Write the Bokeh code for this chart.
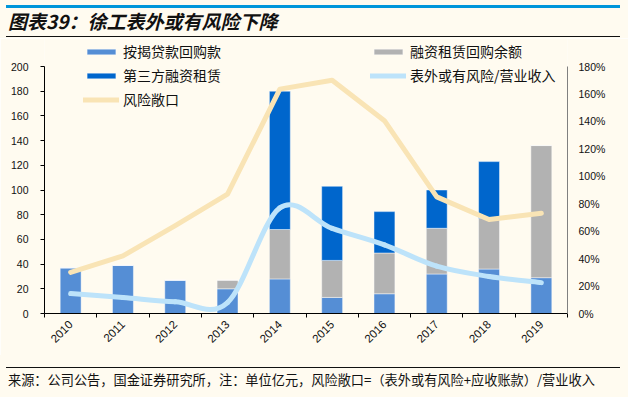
import numpy as np
from bokeh.plotting import figure
from bokeh.layouts import column
from bokeh.models import (Range1d, LinearAxis, FixedTicker, Div,
                          Legend, LegendItem, NumeralTickFormatter, ColumnDataSource)
from bokeh.embed import file_html
from bokeh.resources import INLINE

# ---------------- data ----------------
years = ["2010", "2011", "2012", "2013", "2014", "2015", "2016", "2017", "2018", "2019"]
mortgage_buyback = [37, 39, 27, 20, 28, 13, 16, 32, 36, 29]        # 按揭贷款回购款
lease_buyback = [0, 0, 0, 7, 40, 30, 33, 37, 41, 107]              # 融资租赁回购余额
third_party_lease = [0, 0, 0, 0, 112, 60, 33.5, 31, 46, 0]         # 第三方融资租赁
risk_exposure = [0.30, 0.42, 0.64, 0.87, 1.635, 1.70, 1.405, 0.85, 0.685, 0.73]   # 风险敞口
offbs_ratio = [0.145, 0.116, 0.085, 0.08, 0.77, 0.62, 0.50, 0.345, 0.27, 0.225]   # 表外或有风险/营业收入
left_ticks = [0, 20, 40, 60, 80, 100, 120, 140, 160, 180, 200]
right_ticks = [0, 0.2, 0.4, 0.6, 0.8, 1.0, 1.2, 1.4, 1.6, 1.8]

title_text = "图表39：徐工表外或有风险下降"
source_text = "来源：公司公告，国金证券研究所，注：单位亿元，风险敞口=（表外或有风险+应收账款）/营业收入"

BG = "#FFFBF0"
C_MORT = "#558ED5"
C_LEASE = "#B2B2B2"
C_THIRD = "#0066CC"
C_EXPO = "#F9E4B5"
C_RATIO = "#BDE3FA"
CJK = "Noto Sans CJK SC"
NUM = "Liberation Sans"

W = 628
TITLE_H = 38
FIG_H = 317
FOOT_H = 397 - TITLE_H - FIG_H
FRAME_H = 275          # frame height in px (frame bottom at y=313)
AXIS_PX = 247          # px from 0 to 200 on the left axis
L_MAX, R_MAX = 200, 1.8
l_end = L_MAX * FRAME_H / AXIS_PX
r_end = R_MAX * FRAME_H / AXIS_PX

n = len(years)
xc = np.arange(n) + 0.5

p = figure(width=W, height=FIG_H, output_backend="svg", toolbar_location=None,
           x_range=Range1d(0, n), y_range=Range1d(0, l_end))
p.min_border_left = 44
p.min_border_right = 61
p.min_border_top = 0
p.min_border_bottom = FIG_H - FRAME_H
p.margin = 0
p.background_fill_color = BG
p.border_fill_color = BG
p.outline_line_color = None
p.xgrid.visible = False
p.ygrid.visible = False
p.extra_y_ranges = {"r": Range1d(0, r_end)}

src = ColumnDataSource(dict(x=xc, m=mortgage_buyback, l=lease_buyback, t=third_party_lease))
bars = p.vbar_stack(["m", "l", "t"], x="x", width=0.4, source=src,
                    fill_color=[C_MORT, C_LEASE, C_THIRD],
                    line_color="#FFFFFF", line_alpha=0.45, line_width=1)

r_expo = p.line(xc, risk_exposure, y_range_name="r", line_color=C_EXPO,
                line_width=5, line_join="round", line_cap="round")

# smooth curve (Catmull-Rom style bezier through the data points)
yv = np.array(offbs_ratio)
xp = np.concatenate([[xc[0]], xc, [xc[-1]]])
yp = np.concatenate([[yv[0]], yv, [yv[-1]]])
x0 = xc[:-1]; x1 = xc[1:]
y0 = yv[:-1]; y1 = yv[1:]
cx0 = x0 + (xp[2:-1] - xp[0:-3]) / 6.0
cy0 = y0 + (yp[2:-1] - yp[0:-3]) / 6.0
cx1 = x1 - (xp[3:] - xp[1:-2]) / 6.0
cy1 = y1 - (yp[3:] - yp[1:-2]) / 6.0
r_ratio = p.bezier(x0=x0, y0=y0, x1=x1, y1=y1, cx0=cx0, cy0=cy0, cx1=cx1, cy1=cy1,
                   y_range_name="r", line_color=C_RATIO, line_width=5, line_cap="round")

# ---------------- axes ----------------
xa = p.xaxis[0]
xa.ticker = FixedTicker(ticks=list(xc), minor_ticks=list(range(n + 1)))
xa.major_label_overrides = {float(v): y for v, y in zip(xc, years)}
xa.major_label_orientation = np.pi / 4
xa.major_tick_out = 0
xa.major_tick_in = 0
xa.minor_tick_out = 4
xa.minor_tick_in = 0
xa.minor_tick_line_color = "black"
xa.axis_line_color = "black"
xa.major_label_text_font = NUM
xa.major_label_text_font_size = "11.5px"
xa.major_label_text_color = "#111111"
xa.major_label_standoff = 5

ya = p.yaxis[0]
ya.ticker = FixedTicker(ticks=left_ticks)
ya.bounds = (0, L_MAX)
ya.major_tick_out = 4
ya.major_tick_in = 0
ya.minor_tick_line_color = None
ya.axis_line_color = "black"
ya.major_label_text_font = NUM
ya.major_label_text_font_size = "10.5px"
ya.major_label_text_color = "#111111"
ya.major_label_standoff = 12

ra = LinearAxis(y_range_name="r", ticker=FixedTicker(ticks=right_ticks),
                formatter=NumeralTickFormatter(format="0%"), bounds=(0, R_MAX))
ra.major_tick_out = 0
ra.major_tick_in = 0
ra.minor_tick_line_color = None
ra.axis_line_color = "#808080"
ra.major_label_text_font = NUM
ra.major_label_text_font_size = "10.5px"
ra.major_label_text_color = "#111111"
ra.major_label_standoff = 11
p.add_layout(ra, "right")

# ---------------- legends ----------------
def make_legend(items, loc):
    return Legend(items=items, location=loc, orientation="vertical",
                  glyph_width=36, glyph_height=7, label_height=20, spacing=4,
                  label_standoff=4, padding=0, margin=0,
                  border_line_color=None, background_fill_alpha=0,
                  label_text_font=CJK, label_text_font_size="14px",
                  label_text_color="#111111")

leg_left = make_legend([LegendItem(label="按揭贷款回购款", renderers=[bars[0]]),
                        LegendItem(label="第三方融资租赁", renderers=[bars[2]]),
                        LegendItem(label="风险敞口", renderers=[r_expo])], (39, 204))
leg_right = make_legend([LegendItem(label="融资租赁回购余额", renderers=[bars[1]]),
                         LegendItem(label="表外或有风险/营业收入", renderers=[r_ratio])], (326, 228))
p.add_layout(leg_left)
p.add_layout(leg_right)

# ---------------- title / footer ----------------
title_html = (
    f'<div style="position:relative;width:{W}px;height:{TITLE_H}px;background:{BG};">'
    '<div style="position:absolute;left:6px;top:5px;width:614px;height:3px;background:#0096DA"></div>'
    f'<div style="position:absolute;left:8px;top:10px;white-space:nowrap;font-family:\'{CJK}\';'
    'font-size:19px;font-weight:bold;font-style:italic;line-height:22px;color:#111">'
    f'{title_text}</div>'
    '<div style="position:absolute;left:6px;top:36px;width:614px;height:1px;background:#111"></div>'
    '</div>'
)
foot_html = (
    f'<div style="position:relative;width:{W}px;height:{FOOT_H}px;background:{BG};">'
    '<div style="position:absolute;left:6px;top:12px;width:614px;height:1px;background:#111"></div>'
    f'<div style="position:absolute;left:8px;top:17px;white-space:nowrap;font-family:\'{CJK}\';'
    f'font-size:13.2px;line-height:16px;color:#111">{source_text}</div>'
    '</div>'
)
title_div = Div(text=title_html, width=W, height=TITLE_H, margin=0)
foot_div = Div(text=foot_html, width=W, height=FOOT_H, margin=0)

layout = column(title_div, p, foot_div, spacing=0, margin=0)

open("out.html", "w").write(file_html(layout, INLINE))
